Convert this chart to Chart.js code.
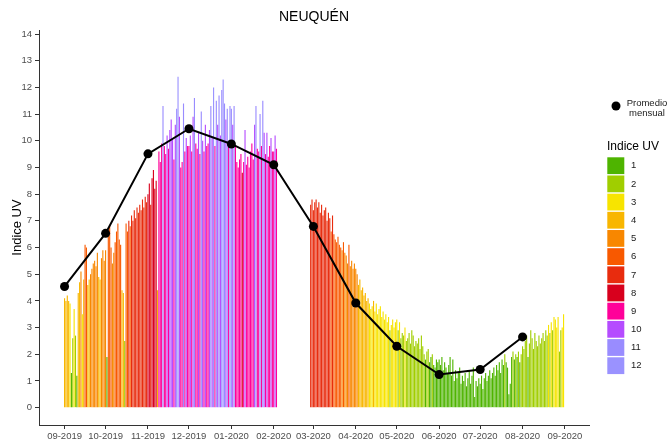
<!DOCTYPE html>
<html>
<head>
<meta charset="utf-8">
<script src="https://cdn.jsdelivr.net/npm/chart.js@4.4.1/dist/chart.umd.min.js"></script>
<style>
html, body { margin: 0; padding: 0; background: #fff; }
#wrap { width: 668px; height: 444px; }
</style>
</head>
<body>
<div id="wrap"><canvas id="uvChart" width="668" height="444"></canvas></div>
<script>
// month ticks (day offset from 01-09-2019)
const monthLabels = ['09-2019', '10-2019', '11-2019', '12-2019', '01-2020', '02-2020', '03-2020',
    '04-2020', '05-2020', '06-2020', '07-2020', '08-2020', '09-2020'];
const monthStartDay = [0, 30, 61, 91, 122, 153, 182, 213, 243, 274, 304, 335, 366];

// promedio mensual
const monthlyMean = [4.54, 6.53, 9.51, 10.45, 9.88, 9.10, 6.79, 3.92, 2.30, 1.24, 1.43, 2.65];

// daily UV index, one array per month (null = no data)
const uvSep19 = [4.1, 4.0, 4.2, 4.0, 3.9, 1.3, 2.6, 3.7, 2.7, 1.2, 4.3, 4.7, 5.1, 3.5, 4.8, 6.1, 6.0, 4.6, 4.8, 5.0,
    5.2, 5.4, 5.5, 5.3, 5.8, 4.9, 4.8, 5.6, 5.9, 5.5];
const uvOct19 = [5.9, 1.9, 6.4, 6.8, 6.0, 5.4, 5.8, 6.2, 6.6, 6.9, 6.3, 6.1, 4.4, 4.3, 2.5, 6.9, 6.6, 7.0, 6.8, 7.2,
    7.0, 7.4, 7.1, 7.5, 7.3, 7.6, 7.4, 7.8, 7.5, 7.9, 7.7];
const uvNov19 = [8.0, 8.4, 7.6, 8.6, 8.9, 8.2, 8.5, 4.4, 9.6, 9.2, 9.9, 11.3, 9.8, 9.5, 10.2, 9.7, 10.4, 10.8, 10.1, 9.3,
    10.6, 11.2, 12.4, 10.9, 9.0, 9.2, 11.4, 9.6, 10.1, 9.8];
const uvDec19 = [9.8, 10.2, 9.6, 10.9, 11.6, 9.9, 9.7, 10.3, 9.5, 11.1, 10.0, 9.6, 10.6, 9.8, 9.9, 10.4, 11.3, 10.1, 12.0, 9.8,
    11.5, 10.6, 11.7, 10.2, 11.9, 12.3, 11.4, 10.8, 11.2, 9.8, 11.3];
const uvJan20 = [11.2, 10.6, 11.3, 9.8, 9.2, 9.0, 9.3, 9.5, 8.8, 9.2, 10.4, 9.1, 9.4, 9.0, 9.6, 9.9, 9.3, 10.6, 11.3, 9.7,
    9.6, 11.0, 9.8, 11.5, 10.3, 9.5, 10.3, 9.4, 9.8, 10.1, 9.6];
const uvFeb20 = [9.6, 10.2, 9.7, null, null, null, null, null, null, null, null, null, null, null, null, null, null, null, null, null,
    null, null, null, null, null, null, null, 7.6, 7.8];
const uvMar20 = [7.4, 7.7, 7.8, 7.5, 7.7, 7.3, 7.6, 7.2, 7.4, 7.5, 7.0, 7.3, 7.1, 6.6, 7.2, 6.5, 6.3, 6.2, 6.4, 6.1,
    6.0, 5.9, 6.2, 5.8, 5.7, 5.4, 6.1, 5.3, 5.5, 5.2, 5.4];
const uvApr20 = [5.2, 5.0, 4.6, 4.8, 4.4, 4.5, 4.2, 4.3, 4.0, 4.1, 3.9, 3.7, 3.8, 4.0, 3.6, 3.9, 3.5, 3.7, 3.8, 3.4,
    3.6, 3.3, 3.5, 3.2, 3.4, 2.9, 3.1, 3.3, 3.0, 3.2];
const uvMay20 = [3.3, 2.9, 3.2, 2.6, 2.8, 2.7, 3.0, 2.5, 2.6, 2.8, 2.4, 2.9, 2.7, 2.3, 2.5, 2.4, 2.6, 2.2, 2.7, 2.3,
    2.0, 1.8, 2.1, 2.2, 1.7, 1.9, 2.0, 1.6, 1.5, 1.8, 1.7];
const uvJun20 = [1.8, 1.6, 1.9, 1.4, 1.7, 1.5, 1.3, 1.6, 1.9, 1.2, 1.8, 1.0, 1.4, 1.1, 1.3, 1.5, 0.9, 1.2, 1.0, 1.3,
    0.8, 1.1, 1.4, 0.9, 1.2, 1.5, 0.4, 1.0, 0.8, 1.1];
const uvJul20 = [0.9, 1.2, 0.7, 1.1, 1.3, 1.0, 1.2, 1.4, 1.1, 1.3, 1.5, 1.2, 1.6, 1.4, 1.7, 1.3, 1.8, 1.6, 2.0, 1.7,
    1.5, 0.5, 0.9, 1.9, 2.1, 1.8, 2.0, 1.9, 2.1, 1.7, 2.0];
const uvAug20 = [2.3, 2.2, 2.5, 2.7, 1.9, 2.4, 2.9, 2.6, 2.2, 2.8, 2.5, 2.3, 2.7, 2.4, 2.6, 2.8, 2.5, 2.9, 2.7, 3.1,
    2.8, 3.2, 2.9, 3.4, 3.3, 3.0, 3.4, 2.1, 2.9, 3.0, 3.5];

// Indice UV categories and colours
const uvCategories = ['1', '2', '3', '4', '5', '6', '7', '8', '9', '10', '11', '12'];
const uvColors = ['#4EB400', '#A0CE00', '#F7E400', '#F8B600', '#F88700', '#F85900',
    '#E82C0E', '#D8001D', '#FF0099', '#B54CFF', '#998CFF', '#9A92FF'];

const yTicks = [0, 1, 2, 3, 4, 5, 6, 7, 8, 9, 10, 11, 12, 13, 14];

const dailyByMonth = [uvSep19, uvOct19, uvNov19, uvDec19, uvJan20, uvFeb20, uvMar20,
    uvApr20, uvMay20, uvJun20, uvJul20, uvAug20];

function colorFor(v) {
    let c = Math.floor(v);
    if (c < 1) c = 1;
    if (c > 12) c = 12;
    return uvColors[c - 1];
}

const barPoints = [];
const barColors = [];
dailyByMonth.forEach((days, i) => {
    days.forEach((v, j) => {
        if (v === null) return;
        barPoints.push({ x: monthStartDay[i] + j, y: v });
        barColors.push(colorFor(v));
    });
});

const meanPoints = monthlyMean.map((v, i) => ({ x: monthStartDay[i], y: v }));

const tickFont = { family: 'Liberation Sans, Arial, sans-serif', size: 9.5 };
const tickColor = '#4D4D4D';

// title + legend drawn at the right side, like the ggplot layout
const extrasPlugin = {
    id: 'extras',
    afterDraw(chart) {
        const ctx = chart.ctx;
        ctx.save();
        ctx.fillStyle = '#000';
        ctx.font = '14px Liberation Sans, Arial, sans-serif';
        ctx.textAlign = 'center';
        ctx.textBaseline = 'middle';
        ctx.fillText('NEUQUÉN', (chart.chartArea.left + chart.chartArea.right) / 2, 17);

        // promedio mensual key
        ctx.beginPath();
        ctx.arc(616, 106, 4.5, 0, Math.PI * 2);
        ctx.fill();
        ctx.font = '9.5px Liberation Sans, Arial, sans-serif';
        ctx.fillStyle = '#1A1A1A';
        ctx.fillText('Promedio', 647, 103);
        ctx.fillText('mensual', 647, 113.5);

        // Indice UV key
        ctx.textAlign = 'left';
        ctx.fillStyle = '#000';
        ctx.font = '12px Liberation Sans, Arial, sans-serif';
        ctx.fillText('Indice UV', 607, 147);
        ctx.font = '9.5px Liberation Sans, Arial, sans-serif';
        uvCategories.forEach((lab, i) => {
            const y = 157.3 + i * 18.18;
            ctx.fillStyle = uvColors[i];
            ctx.fillRect(607.3, y, 17, 16.8);
            ctx.fillStyle = '#1A1A1A';
            ctx.fillText(lab, 631, y + 8.5);
        });
        ctx.restore();
    }
};

new Chart(document.getElementById('uvChart').getContext('2d'), {
    data: {
        datasets: [
            {
                type: 'line',
                label: 'Promedio mensual',
                data: meanPoints,
                borderColor: '#000',
                backgroundColor: '#000',
                borderWidth: 2,
                pointRadius: 4.5,
                pointBackgroundColor: '#000',
                pointBorderWidth: 0,
                tension: 0,
                order: 0
            },
            {
                type: 'bar',
                label: 'Indice UV',
                data: barPoints,
                backgroundColor: barColors,
                borderWidth: 0,
                categoryPercentage: 1.0,
                barPercentage: 0.82,
                order: 1
            }
        ]
    },
    options: {
        responsive: false,
        animation: false,
        layout: { padding: { top: 30, right: 79, left: 0, bottom: 0 } },
        plugins: {
            legend: { display: false },
            tooltip: { enabled: false }
        },
        scales: {
            x: {
                type: 'linear',
                min: -18.7,
                max: 383.6,
                offset: false,
                afterBuildTicks: scale => {
                    scale.ticks = monthStartDay.map(v => ({ value: v }));
                },
                ticks: {
                    autoSkip: false,
                    maxRotation: 0,
                    font: tickFont,
                    color: tickColor,
                    padding: 2,
                    callback: (value, index) => monthLabels[index]
                },
                grid: { drawOnChartArea: false, offset: false, tickLength: 4, color: '#333' },
                border: { color: '#333', width: 1 },
                afterFit: scale => { scale.height = 19; }
            },
            y: {
                type: 'linear',
                min: -0.65,
                max: 14.15,
                afterBuildTicks: scale => {
                    scale.ticks = yTicks.map(v => ({ value: v }));
                },
                ticks: { font: tickFont, color: tickColor, padding: 3 },
                grid: { drawOnChartArea: false, tickLength: 4, color: '#333' },
                border: { color: '#333', width: 1 },
                title: {
                    display: true,
                    text: 'Indice UV',
                    color: '#000',
                    font: { family: 'Liberation Sans, Arial, sans-serif', size: 13 },
                    padding: { top: 10, bottom: 0 }
                },
                afterFit: scale => { scale.width = 39; }
            }
        }
    },
    plugins: [extrasPlugin]
});
</script>
</body>
</html>
